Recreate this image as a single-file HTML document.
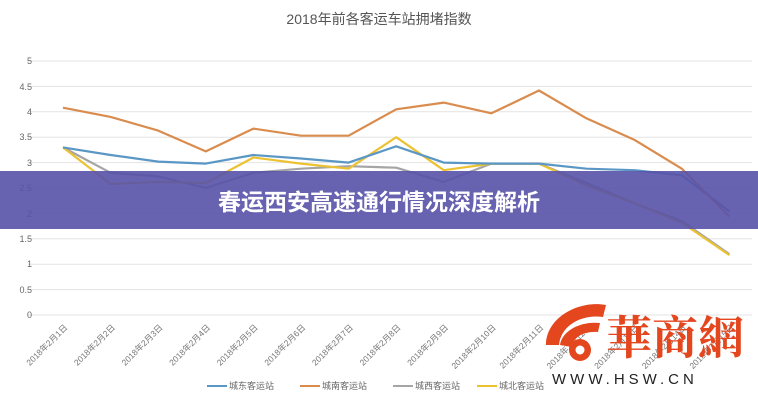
<!DOCTYPE html>
<html><head><meta charset="utf-8"><style>
body{margin:0;width:758px;height:400px;background:#fff;overflow:hidden;font-family:"Liberation Sans","Noto Sans CJK SC",sans-serif}
</style></head><body>
<svg width="758" height="400" xmlns="http://www.w3.org/2000/svg" style="position:absolute;left:0;top:0">
<text x="379" y="24" text-anchor="middle" font-size="14" fill="#555" font-family="Liberation Sans,Noto Sans CJK SC,sans-serif">2018年前各客运车站拥堵指数</text>
<g stroke="#e3e3e3" stroke-width="1">
<line x1="28" y1="61" x2="752" y2="61"/><line x1="28" y1="86.4" x2="752" y2="86.4"/>
<line x1="28" y1="111.8" x2="752" y2="111.8"/><line x1="28" y1="137.2" x2="752" y2="137.2"/>
<line x1="28" y1="162.6" x2="752" y2="162.6"/><line x1="28" y1="188" x2="752" y2="188"/>
<line x1="28" y1="213.4" x2="752" y2="213.4"/><line x1="28" y1="238.8" x2="752" y2="238.8"/>
<line x1="28" y1="264.2" x2="752" y2="264.2"/><line x1="28" y1="289.6" x2="752" y2="289.6"/>
<line x1="28" y1="315" x2="752" y2="315"/>
</g>
<g font-size="9" fill="#666" text-anchor="end">
<text x="32" y="64">5</text><text x="32" y="90">4.5</text><text x="32" y="115">4</text><text x="32" y="140">3.5</text><text x="32" y="166">3</text><text x="32" y="191">2.5</text><text x="32" y="217">2</text><text x="32" y="242">1.5</text><text x="32" y="267">1</text><text x="32" y="293">0.5</text><text x="32" y="318">0</text>
</g>
<g fill="none" stroke-width="2.2" stroke-linejoin="round">
<polyline stroke="#a5a5a5" points="63,147.4 110.6,172.8 158.2,176.4 205.8,188 253.4,172.8 301,168.7 348.6,166.2 396.2,167.7 443.8,181.9 491.4,163.6 539,163.6 586.6,183 634.2,203.2 681.8,221 729.4,254.1"/>
<polyline stroke="#ecc232" points="63,147.4 110.6,184 158.2,181.9 205.8,183 253.4,157.5 301,163.6 348.6,168.7 396.2,137.2 443.8,170.2 491.4,163.6 539,163.6 586.6,185.5 634.2,203.2 681.8,222.6 729.4,255.1"/>
<polyline stroke="#5a97c4" points="63,147.4 110.6,155 158.2,161.6 205.8,163.6 253.4,155 301,158.5 348.6,162.6 396.2,146.3 443.8,162.6 491.4,163.6 539,163.6 586.6,168.7 634.2,170.2 681.8,175.3 729.4,211.4"/>
<polyline stroke="#d98c4e" points="63,107.7 110.6,116.9 158.2,130.6 205.8,151.4 253.4,128.6 301,135.7 348.6,135.7 396.2,109.3 443.8,102.6 491.4,113.3 539,90.5 586.6,118.4 634.2,139.7 681.8,168.7 729.4,216.5"/>
</g>
<rect x="0" y="171" width="758" height="58" fill="rgb(88,82,168)" fill-opacity="0.9"/>
<text x="379" y="210" text-anchor="middle" font-size="23" font-weight="bold" fill="#fff" font-family="Liberation Sans,Noto Sans CJK SC,sans-serif">春运西安高速通行情况深度解析</text>
<g font-size="8.5" fill="#777">
<text transform="translate(68,328) rotate(-45)" text-anchor="end">2018年2月1日</text>
<text transform="translate(115.6,328) rotate(-45)" text-anchor="end">2018年2月2日</text>
<text transform="translate(163.2,328) rotate(-45)" text-anchor="end">2018年2月3日</text>
<text transform="translate(210.8,328) rotate(-45)" text-anchor="end">2018年2月4日</text>
<text transform="translate(258.4,328) rotate(-45)" text-anchor="end">2018年2月5日</text>
<text transform="translate(306,328) rotate(-45)" text-anchor="end">2018年2月6日</text>
<text transform="translate(353.6,328) rotate(-45)" text-anchor="end">2018年2月7日</text>
<text transform="translate(401.2,328) rotate(-45)" text-anchor="end">2018年2月8日</text>
<text transform="translate(448.8,328) rotate(-45)" text-anchor="end">2018年2月9日</text>
<text transform="translate(496.4,328) rotate(-45)" text-anchor="end">2018年2月10日</text>
<text transform="translate(544,328) rotate(-45)" text-anchor="end">2018年2月11日</text>
<text transform="translate(591.6,328) rotate(-45)" text-anchor="end">2018年2月12日</text>
<text transform="translate(639.2,328) rotate(-45)" text-anchor="end">2018年2月13日</text>
<text transform="translate(686.8,328) rotate(-45)" text-anchor="end">2018年2月14日</text>
<text transform="translate(734.4,328) rotate(-45)" text-anchor="end">2018年2月15日</text>
</g>
<g font-size="9" fill="#666">
<line x1="207" y1="386" x2="227" y2="386" stroke="#5a97c4" stroke-width="2"/><text x="229" y="389">城东客运站</text>
<line x1="300" y1="386" x2="320" y2="386" stroke="#d98c4e" stroke-width="2"/><text x="322" y="389">城南客运站</text>
<line x1="393" y1="386" x2="413" y2="386" stroke="#a5a5a5" stroke-width="2"/><text x="415" y="389">城西客运站</text>
<line x1="477" y1="386" x2="497" y2="386" stroke="#ecc232" stroke-width="2"/><text x="499" y="389">城北客运站</text>
</g>
<g>
<path d="M546,345 C546,318 578,300 606,305 L603,317 C582,314 561,325 559,345 Z" fill="#e4461e"/>
<path d="M560,345 C562,331 580,321 600,323 L598,332 C584,331 573,337 572,347 Z" fill="#e4461e"/>
<circle cx="580" cy="350" r="11" fill="#e4461e"/><circle cx="580" cy="350" r="4.5" fill="#fff"/>
<text x="606" y="354" font-size="46" fill="#e4461e" font-family="Noto Serif CJK SC,serif" font-weight="bold">華商網</text>
<text x="552" y="384" font-size="15" fill="#222" letter-spacing="4">WWW.HSW.CN</text>
</g>
</svg>
</body></html>
